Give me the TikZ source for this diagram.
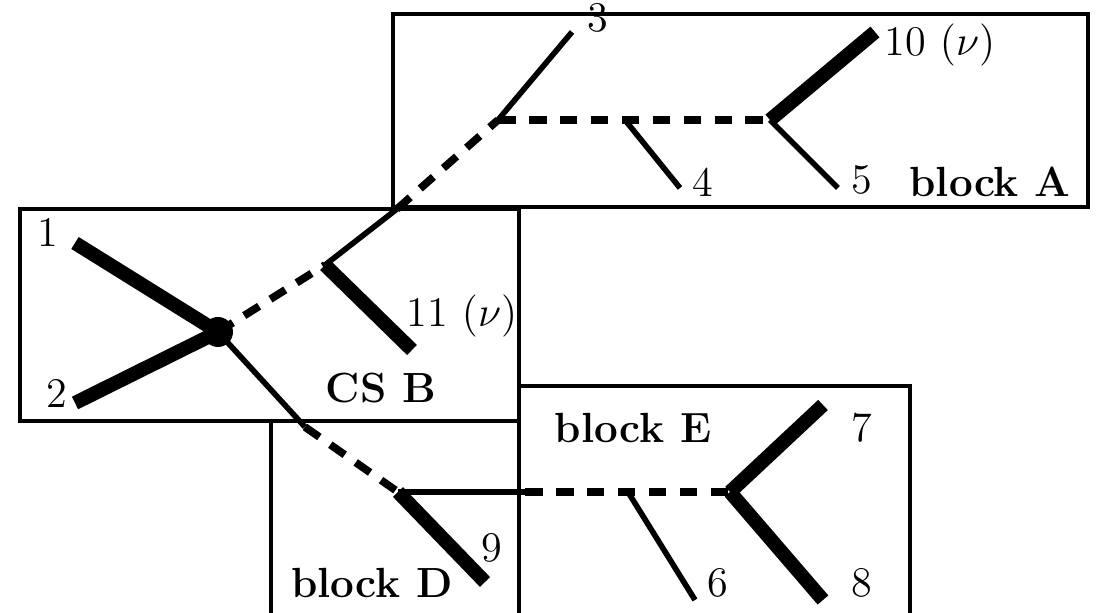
\documentclass[tikz,border=0pt]{standalone}
\usetikzlibrary{arrows.meta}
\begin{document}
\begin{tikzpicture}[line width=1.3pt,
  heavy/.style={line width=4pt},
  light/.style={line width=1.6pt},
  dashln/.style={line width=2.2pt,dash pattern=on 5pt off 3.8pt},
  lbl/.style={font=\large,inner sep=0pt},
  blk/.style={font=\large\bfseries,inner sep=0pt}]
\useasboundingbox (0,0) rectangle (10.96,-6.13);
% blocks
\draw (3.93,-0.14) rectangle (10.88,-2.07);
\draw (0.20,-2.09) rectangle (5.19,-4.21);
\draw (2.71,-6.2) -- (2.71,-4.21);
\draw (5.19,-6.2) -- (5.19,-3.86) -- (9.10,-3.86) -- (9.10,-6.2);
% vertices
\coordinate (V) at (2.18,-3.32);
\coordinate (Vb) at (3.25,-2.65);
\coordinate (Xa) at (3.97,-2.09);
\coordinate (Va) at (4.98,-1.20);
\coordinate (Vc) at (6.25,-1.20);
\coordinate (Vd) at (7.70,-1.20);
\coordinate (Xd) at (3.05,-4.27);
\coordinate (Ve) at (3.98,-4.92);
\coordinate (Xe) at (5.25,-4.92);
\coordinate (Vf) at (6.28,-4.92);
\coordinate (Vg) at (7.30,-4.92);
% external legs
\coordinate (e1) at (0.75,-2.43);
\coordinate (e2) at (0.75,-4.03);
\coordinate (e3) at (5.72,-0.32);
\coordinate (e4) at (6.80,-1.88);
\coordinate (e5) at (8.38,-1.88);
\coordinate (e10) at (8.75,-0.32);
\coordinate (e11) at (4.12,-3.50);
\coordinate (e9) at (4.85,-5.82);
\coordinate (e6) at (6.95,-6.00);
\coordinate (e7) at (8.23,-4.05);
\coordinate (e8) at (8.23,-6.00);
% propagators
\draw[dashln] (V) -- (Vb);
\draw[light] (Vb) -- (Xa);
\draw[dashln] (Xa) -- (Va);
\draw[dashln] (Va) -- (Vd);
\draw[light] (V) -- (Xd);
\draw[dashln] (Xd) -- (Ve);
\draw[light] (Ve) -- (Xe);
\draw[dashln] (Xe) -- (Vg);
% legs
\draw[heavy] (e1) -- (V);
\draw[heavy] (e2) -- (V);
\draw[heavy] (Vb) -- (e11);
\draw[light] (Va) -- (e3);
\draw[light] (Vc) -- (e4);
\draw[heavy] (Vd) -- (e10);
\draw[light] (Vd) -- (e5);
\draw[heavy] (Ve) -- (e9);
\draw[light] (Vf) -- (e6);
\draw[heavy] (Vg) -- (e7);
\draw[heavy] (Vg) -- (e8);
\fill (V) circle (0.15);
% labels
\node[lbl] (l1) at (0.48,-2.32) {1};
\node[lbl] (l2) at (0.57,-3.93) {2};
\node[lbl] (l3) at (5.98,-0.18) {3};
\node[lbl] (l4) at (7.03,-1.82) {4};
\node[lbl] (l5) at (8.62,-1.80) {5};
\node[lbl] (l10) at (9.40,-0.45) {10 $(\nu)$};
\node[lbl] (l11) at (4.62,-3.16) {11 $(\nu)$};
\node[lbl] (l9) at (4.92,-5.48) {9};
\node[lbl] (l6) at (7.18,-5.83) {6};
\node[lbl] (l7) at (8.62,-4.28) {7};
\node[lbl] (l8) at (8.62,-5.83) {8};
\node[blk] (bA) at (9.90,-1.82) {block A};
\node[blk] (bB) at (3.81,-3.88) {CS B};
\node[blk] (bE) at (6.33,-4.28) {block E};
\node[blk] (bD) at (3.72,-5.83) {block D};
\end{tikzpicture}
\end{document}
